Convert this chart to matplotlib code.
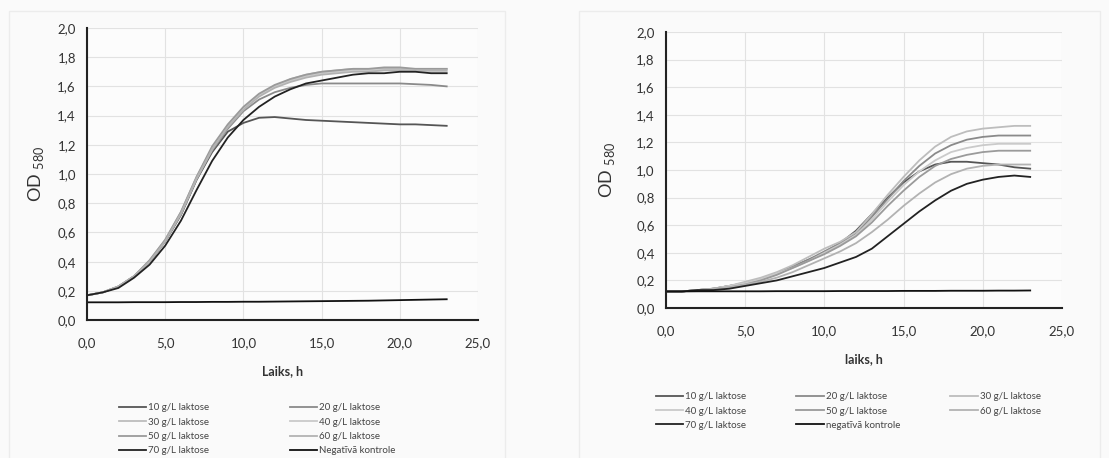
import matplotlib
matplotlib.use("Agg")
import matplotlib.pyplot as plt
from matplotlib.patches import Rectangle

# time points, h
hours = list(range(0, 24))

# left chart: OD580 per lactose concentration
left_10 = [0.17, 0.19, 0.23, 0.30, 0.40, 0.54, 0.72, 0.96, 1.15, 1.29, 1.35, 1.385, 1.39, 1.38, 1.37, 1.365, 1.36, 1.355, 1.35, 1.345, 1.34, 1.34, 1.335, 1.33]
left_20 = [0.17, 0.19, 0.23, 0.30, 0.40, 0.54, 0.72, 0.96, 1.16, 1.31, 1.43, 1.51, 1.56, 1.59, 1.61, 1.62, 1.62, 1.62, 1.62, 1.62, 1.62, 1.615, 1.61, 1.60]
left_30 = [0.17, 0.19, 0.23, 0.30, 0.41, 0.55, 0.74, 0.98, 1.18, 1.33, 1.45, 1.54, 1.60, 1.65, 1.68, 1.70, 1.71, 1.72, 1.72, 1.72, 1.72, 1.72, 1.72, 1.72]
left_40 = [0.17, 0.19, 0.23, 0.30, 0.40, 0.55, 0.73, 0.97, 1.17, 1.33, 1.45, 1.54, 1.60, 1.64, 1.67, 1.69, 1.70, 1.71, 1.71, 1.71, 1.71, 1.71, 1.70, 1.70]
left_50 = [0.17, 0.19, 0.23, 0.30, 0.41, 0.55, 0.74, 0.98, 1.19, 1.34, 1.46, 1.55, 1.61, 1.65, 1.68, 1.70, 1.71, 1.72, 1.72, 1.73, 1.73, 1.72, 1.72, 1.72]
left_60 = [0.17, 0.19, 0.23, 0.30, 0.40, 0.54, 0.73, 0.97, 1.17, 1.32, 1.44, 1.53, 1.59, 1.63, 1.66, 1.68, 1.69, 1.70, 1.70, 1.71, 1.71, 1.71, 1.71, 1.71]
left_70 = [0.17, 0.19, 0.22, 0.29, 0.38, 0.51, 0.68, 0.89, 1.09, 1.25, 1.37, 1.46, 1.53, 1.58, 1.62, 1.64, 1.66, 1.68, 1.69, 1.69, 1.70, 1.70, 1.69, 1.69]
left_neg = [0.122, 0.122, 0.122, 0.123, 0.123, 0.123, 0.124, 0.124, 0.125, 0.125, 0.126, 0.126, 0.127, 0.128, 0.129, 0.130, 0.131, 0.132, 0.133, 0.135, 0.137, 0.139, 0.141, 0.143]

# right chart
right_10 = [0.12, 0.12, 0.13, 0.14, 0.16, 0.18, 0.21, 0.25, 0.30, 0.35, 0.40, 0.47, 0.56, 0.68, 0.80, 0.91, 0.99, 1.04, 1.06, 1.06, 1.05, 1.04, 1.02, 1.01]
right_20 = [0.12, 0.12, 0.13, 0.14, 0.16, 0.18, 0.21, 0.25, 0.30, 0.35, 0.41, 0.47, 0.54, 0.66, 0.79, 0.92, 1.03, 1.12, 1.18, 1.22, 1.24, 1.25, 1.25, 1.25]
right_30 = [0.12, 0.12, 0.13, 0.14, 0.16, 0.19, 0.22, 0.26, 0.31, 0.37, 0.43, 0.48, 0.55, 0.68, 0.82, 0.95, 1.07, 1.17, 1.24, 1.28, 1.30, 1.31, 1.32, 1.32]
right_40 = [0.12, 0.12, 0.13, 0.14, 0.16, 0.18, 0.21, 0.25, 0.29, 0.34, 0.40, 0.46, 0.53, 0.64, 0.77, 0.89, 0.99, 1.07, 1.13, 1.16, 1.18, 1.19, 1.19, 1.19]
right_50 = [0.12, 0.12, 0.13, 0.14, 0.15, 0.17, 0.20, 0.24, 0.29, 0.34, 0.39, 0.45, 0.52, 0.62, 0.74, 0.85, 0.95, 1.03, 1.08, 1.11, 1.13, 1.14, 1.14, 1.14]
right_60 = [0.12, 0.12, 0.13, 0.14, 0.15, 0.17, 0.19, 0.22, 0.26, 0.31, 0.36, 0.41, 0.47, 0.55, 0.64, 0.74, 0.83, 0.91, 0.97, 1.01, 1.03, 1.04, 1.04, 1.04]
right_70 = [0.12, 0.12, 0.13, 0.13, 0.14, 0.16, 0.18, 0.20, 0.23, 0.26, 0.29, 0.33, 0.37, 0.43, 0.52, 0.61, 0.70, 0.78, 0.85, 0.90, 0.93, 0.95, 0.96, 0.95]
right_neg = [0.120, 0.120, 0.121, 0.121, 0.121, 0.121, 0.121, 0.122, 0.122, 0.122, 0.122, 0.123, 0.123, 0.123, 0.123, 0.124, 0.124, 0.124, 0.125, 0.125, 0.125, 0.126, 0.126, 0.127]

labels = ["10 g/L laktose", "20 g/L laktose", "30 g/L laktose", "40 g/L laktose",
          "50 g/L laktose", "60 g/L laktose", "70 g/L laktose"]
left_neg_label = "Negatīvā kontrole"
right_neg_label = "negatīvā kontrole"

x_ticks = [0, 5, 10, 15, 20, 25]
x_tick_labels = ["0,0", "5,0", "10,0", "15,0", "20,0", "25,0"]
y_ticks = [0.0, 0.2, 0.4, 0.6, 0.8, 1.0, 1.2, 1.4, 1.6, 1.8, 2.0]
y_tick_labels = ["0,0", "0,2", "0,4", "0,6", "0,8", "1,0", "1,2", "1,4", "1,6", "1,8", "2,0"]

colors = ["#555555", "#8a8a8a", "#bdbdbd", "#cacaca", "#9a9a9a", "#b2b2b2", "#222222", "#111111"]

plt.rcParams['font.family'] = ['Lato', 'DejaVu Sans']

fig = plt.figure(figsize=(11.09, 4.58), dpi=100, facecolor="#fafafa")

# faint chart-area frames like the scanned Excel charts
fig.patches.append(Rectangle((0.008, -0.01), 0.447, 0.985, transform=fig.transFigure,
                             fill=False, edgecolor="#ececec", lw=1))
fig.patches.append(Rectangle((0.522, -0.01), 0.47, 0.985, transform=fig.transFigure,
                             fill=False, edgecolor="#ececec", lw=1))


def draw(ax, series, neg_label, xlabel, ncol, order, leg_anchor, colspace, ylabelpad):
    handles = []
    for vals, lab, col in zip(series, labels + [neg_label], colors):
        h, = ax.plot(hours, vals, color=col, lw=1.3, label=lab)
        handles.append(h)
    ax.set_xlim(0, 25)
    ax.set_ylim(0, 2.0)
    ax.set_xticks(x_ticks)
    ax.set_xticklabels(x_tick_labels)
    ax.set_yticks(y_ticks)
    ax.set_yticklabels(y_tick_labels)
    ax.tick_params(axis="x", length=0, labelsize=9.5, colors="#333333", pad=12)
    ax.tick_params(axis="y", length=0, labelsize=9.5, colors="#333333", pad=8)
    ax.grid(True, color="#e2e2e2", lw=0.8)
    ax.set_axisbelow(True)
    for s in ["top", "right"]:
        ax.spines[s].set_visible(False)
    for s in ["left", "bottom"]:
        ax.spines[s].set_color("#222222")
        ax.spines[s].set_linewidth(1.5)
    ax.set_facecolor("#fcfcfc")
    ax.set_ylabel(r"OD $_{\mathregular{580}}$", fontsize=13, color="#333333", labelpad=ylabelpad)
    ax.set_xlabel(xlabel, fontsize=9, fontweight="bold", color="#333333", labelpad=12)
    leg = ax.legend([handles[i] for i in order], [handles[i].get_label() for i in order],
                    ncol=ncol, loc="upper center", bbox_to_anchor=leg_anchor,
                    frameon=False, fontsize=7, handlelength=2.8, handletextpad=0.2,
                    columnspacing=colspace, labelspacing=0.55, borderaxespad=0, borderpad=0)
    for t in leg.get_texts():
        t.set_color("#444444")


ax1 = fig.add_axes([0.0785, 0.301, 0.3525, 0.638])
draw(ax1, [left_10, left_20, left_30, left_40, left_50, left_60, left_70, left_neg],
     left_neg_label, "Laiks, h", 2, [0, 2, 4, 6, 1, 3, 5, 7], (0.435, -0.285), 8.3, 8)

ax2 = fig.add_axes([0.6005, 0.3275, 0.357, 0.6025])
draw(ax2, [right_10, right_20, right_30, right_40, right_50, right_60, right_70, right_neg],
     right_neg_label, "laiks, h", 3, [0, 3, 6, 1, 4, 7, 2, 5], (0.46, -0.305), 5.2, 14)

fig.savefig("out.png", dpi=100, facecolor=fig.get_facecolor())
